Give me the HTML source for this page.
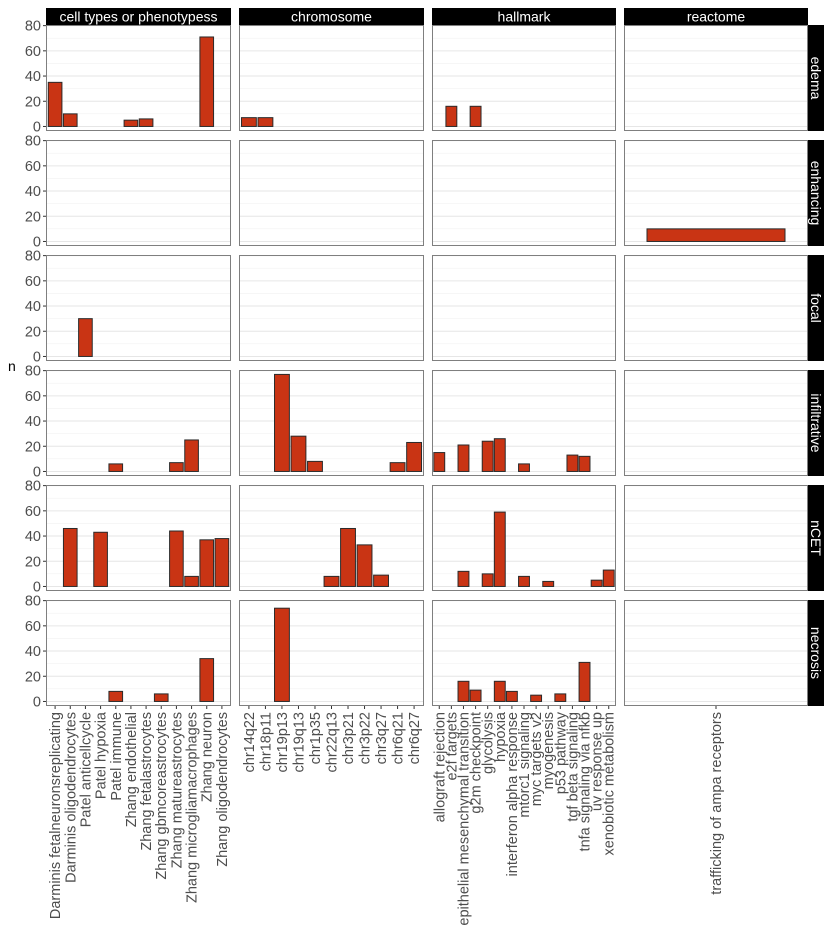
<!DOCTYPE html>
<html><head><meta charset="utf-8"><style>
html,body{margin:0;padding:0;background:#fff;}
svg{display:block;font-family:"Liberation Sans",Arial,sans-serif;}
</style></head><body>
<svg id="chart" width="830" height="934" viewBox="0 0 830 934" xmlns="http://www.w3.org/2000/svg"></svg>
<script>
// ---- data ----
const colFacets = ["cell types or phenotypess","chromosome","hallmark","reactome"];
const rowFacets = ["edema","enhancing","focal","infiltrative","nCET","necrosis"];
const cellCats = ["Darminis fetalneuronsreplicating","Darminis oligodendrocytes","Patel anticellcycle","Patel hypoxia","Patel immune","Zhang endothelial","Zhang fetalastrocytes","Zhang gbmcoreastrocytes","Zhang matureastrocytes","Zhang microgliamacrophages","Zhang neuron","Zhang oligodendrocytes"];
const chromCats = ["chr14q22","chr18p11","chr19p13","chr19q13","chr1p35","chr22q13","chr3p21","chr3p22","chr3q27","chr6q21","chr6q27"];
const hallCats = ["allograft rejection","e2f targets","epithelial mesenchymal transition","g2m checkpoint","glycolysis","hypoxia","interferon alpha response","mtorc1 signaling","myc targets v2","myogenesis","p53 pathway","tgf beta signaling","tnfa signaling via nfkb","uv response up","xenobiotic metabolism"];
const reactCats = ["trafficking of ampa receptors"];
const yTicks = [0,20,40,60,80];
// values per facet: [row, category, n]
const cellVals = [["edema",1,35],["edema",2,10],["edema",6,5],["edema",7,6],["edema",11,71],
 ["focal",3,30],["infiltrative",5,6],["infiltrative",9,7],["infiltrative",10,25],
 ["nCET",2,46],["nCET",4,43],["nCET",9,44],["nCET",10,8],["nCET",11,37],["nCET",12,38],
 ["necrosis",5,8],["necrosis",8,6],["necrosis",11,34]];
const chromVals = [["edema",1,7],["edema",2,7],
 ["infiltrative",3,77],["infiltrative",4,28],["infiltrative",5,8],["infiltrative",10,7],["infiltrative",11,23],
 ["nCET",6,8],["nCET",7,46],["nCET",8,33],["nCET",9,9],["necrosis",3,74]];
const hallVals = [["edema",2,16],["edema",4,16],
 ["infiltrative",1,15],["infiltrative",3,21],["infiltrative",5,24],["infiltrative",6,26],["infiltrative",8,6],["infiltrative",12,13],["infiltrative",13,12],
 ["nCET",3,12],["nCET",5,10],["nCET",6,59],["nCET",8,8],["nCET",10,4],["nCET",14,5],["nCET",15,13],
 ["necrosis",3,16],["necrosis",4,9],["necrosis",6,16],["necrosis",7,8],["necrosis",9,5],["necrosis",11,6],["necrosis",13,31]];
const reactVals = [["enhancing",1,10]];

const NS="http://www.w3.org/2000/svg";
const svg=document.getElementById('chart');
function mk(tag,attrs,parent){const e=document.createElementNS(NS,tag);for(const k in attrs)e.setAttribute(k,attrs[k]);(parent||svg).appendChild(e);return e;}
const colX=[46,239,432,624], colW=[185,185,184,184];
const rowY=[25,140,255,370,485,600], rowH=106;
const yMin=-3.6,yMax=80.5;
function yScale(r,v){return rowY[r]+rowH-(v-yMin)/(yMax-yMin)*rowH;}
function xScale(c,n,i){const u=colW[c]/(n+0.2);return colX[c]+(i-0.4)*u;}
const facetCats=[cellCats,chromCats,hallCats,reactCats];
const facetVals=[cellVals,chromVals,hallVals,reactVals];
const FS=14.5;

for(let c=0;c<4;c++){
  const st=mk('rect',{x:colX[c],y:8,width:colW[c],height:17,fill:'#000'});
  
  
  const t=mk('text',{x:colX[c]+colW[c]/2,y:21.5,'text-anchor':'middle','font-size':14,fill:'#fff'});
  t.textContent=colFacets[c];
  
  
}
for(let r=0;r<6;r++){
  const st=mk('rect',{x:808,y:rowY[r],width:16,height:rowH,fill:'#000'});
  
  
  const cy=rowY[r]+rowH/2;
  const t=mk('text',{x:816,y:cy,'text-anchor':'middle','dominant-baseline':'central','font-size':14,fill:'#fff',transform:`rotate(90 816 ${cy})`});
  t.textContent=rowFacets[r];
  
  
  for(const v of yTicks){
    const y=yScale(r,v);
    const tl=mk('text',{x:41,y:y+5,'text-anchor':'end','font-size':FS,fill:'#4d4d4d'});
    tl.textContent=v;
    
    
    mk('line',{x1:43,x2:46,y1:y,y2:y,stroke:'#333','stroke-width':1});
  }
  for(let c=0;c<4;c++){
    const g=mk('g',{});
    
    
    mk('rect',{x:colX[c],y:rowY[r],width:colW[c],height:rowH,fill:'#fff'},g);
    for(let v=0;v<=80;v+=10){
      const y=yScale(r,v);
      mk('line',{x1:colX[c],x2:colX[c]+colW[c],y1:y,y2:y,stroke:v%20?'#f2f2f2':'#e6e6e6','stroke-width':v%20?0.6:1},g);
    }
    const cats=facetCats[c], n=cats.length, u=colW[c]/(n+0.2);
    for(const [rn,ci,val] of facetVals[c]){
      if(rn!==rowFacets[r])continue;
      const cx=xScale(c,n,ci), y0=yScale(r,0), y1=yScale(r,val);
      const b=mk('rect',{x:cx-0.45*u,y:y1,width:0.9*u,height:y0-y1,fill:'#c93414',stroke:'#2b2b2b','stroke-width':1},g);
      
      
    }
    mk('rect',{x:colX[c]+0.5,y:rowY[r]+0.5,width:colW[c]-1,height:rowH-1,fill:'none',stroke:'#7f7f7f','stroke-width':1},g);
  }
}
for(let c=0;c<4;c++){
  const cats=facetCats[c], n=cats.length;
  for(let i=1;i<=n;i++){
    const x=xScale(c,n,i);
    mk('line',{x1:x,x2:x,y1:706,y2:709,stroke:'#333','stroke-width':1});
    const t=mk('text',{x:x+5,y:712,'text-anchor':'end','font-size':FS,fill:'#4d4d4d',transform:`rotate(-90 ${x+5} 712)`});
    t.textContent=cats[i-1];
    
    
  }
}
const yt=mk('text',{x:8,y:371,'font-size':14,fill:'#000'});
yt.textContent='n';


</script>
</body></html>
